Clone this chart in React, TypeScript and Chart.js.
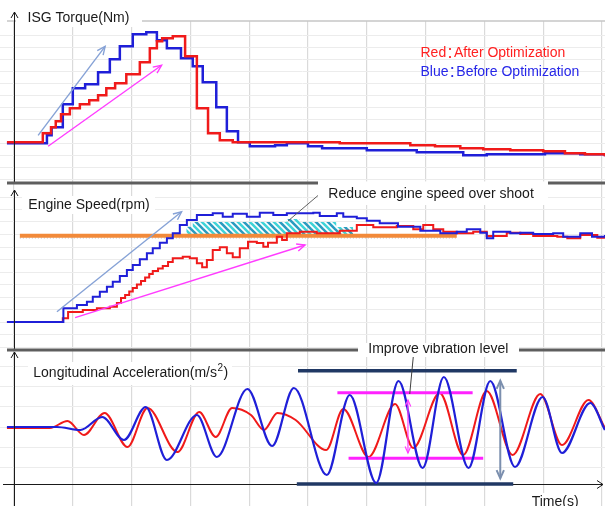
import React, { useEffect, useRef } from "react";
import { Chart, registerables } from "chart.js";

Chart.register(...registerables);

type Pt = [number, number];

// ---------- shared time axis (s) ----------
const timeGridS = [0, 1, 2, 3, 4, 5, 6, 7, 8, 9, 10];
const TIME_MIN = -0.238;
const TIME_MAX = 10.051;

// ---------- panel 1 : ISG torque (Nm) ----------
const torqueGridNm = [-36, -24, -12, 0, 12, 24, 36, 48, 60, 72, 84, 96, 108];
const TORQUE_MIN = -39.7;
const TORQUE_MAX = 122.3;
const torqueAfter: Pt[] = [
  [-0.12, 1], [0.49, 10], [0.63, 16], [0.71, 22], [0.8, 29], [0.95, 35], [1.12, 39], [1.28, 43],
  [1.43, 48], [1.57, 55], [1.72, 60], [1.91, 69], [2.14, 81], [2.31, 95], [2.43, 102], [2.52, 105],
  [2.7, 107], [2.91, 87], [3.11, 35], [3.3, 10], [3.5, 3], [3.72, 1], [4.86, 1], [5.54, 0],
  [6.31, 0], [6.74, -2], [7.16, -3], [7.59, -5], [7.98, -6], [8.44, -7], [9.0, -8], [9.37, -10],
  [9.71, -11], [10.05, -13],
];
const torqueBefore: Pt[] = [
  [-0.12, 0], [0.56, 8], [0.64, 16], [0.83, 39], [1.0, 55], [1.21, 59], [1.43, 71], [1.63, 84],
  [1.8, 97], [2.02, 109], [2.25, 111], [2.43, 103], [2.6, 95], [2.84, 85], [3.04, 77], [3.21, 61],
  [3.44, 36], [3.62, 12], [3.81, 1], [4.01, -3], [4.44, -2], [4.64, 0], [5.0, -3], [5.24, -5],
  [6.0, -7], [6.85, -9], [7.64, -12], [8.04, -11], [9.03, -10], [9.63, -11], [10.05, -13],
];
const torqueTrendBefore: Pt[] = [[0.41, 8], [1.55, 97]];
const torqueTrendAfter: Pt[] = [[0.58, -3], [2.51, 78]];

// ---------- panel 2 : engine speed (rpm) ----------
const speedGridRpm = [-250, -125, 0, 125, 250, 375, 500, 625, 750, 875, 1000, 1125, 1250];
const SPEED_MIN = -280;
const SPEED_MAX = 1390;
const speedAfter: Pt[] = [
  [-0.12, 0], [0.83, 37], [0.92, 100], [1.17, 120], [1.41, 137], [1.63, 153], [1.75, 190], [1.82, 240],
  [1.89, 270], [1.96, 305], [2.02, 340], [2.09, 375], [2.16, 410], [2.23, 445], [2.3, 480], [2.36, 510],
  [2.45, 535], [2.53, 560], [2.62, 600], [2.7, 637], [2.87, 653], [2.99, 637], [3.11, 587], [3.2, 547],
  [3.28, 620], [3.38, 720], [3.5, 747], [3.62, 687], [3.72, 647], [3.84, 737], [3.98, 803], [4.13, 790],
  [4.24, 753], [4.32, 793], [4.47, 853], [4.56, 820], [4.64, 887], [4.86, 903], [5.15, 887], [5.54, 913],
  [5.83, 970], [6.11, 947], [6.51, 960], [6.79, 927], [6.96, 970], [7.13, 927], [7.3, 903], [7.53, 887],
  [7.81, 903], [8.04, 860], [8.38, 893], [8.61, 880], [8.83, 860], [9.24, 853], [9.41, 837], [9.63, 870],
  [9.92, 843], [10.05, 843],
];
const speedBefore: Pt[] = [
  [-0.12, 0], [0.84, 137], [1.07, 170], [1.24, 203], [1.34, 253], [1.46, 303], [1.58, 353], [1.68, 403],
  [1.8, 460], [1.92, 520], [2.02, 570], [2.14, 627], [2.26, 687], [2.36, 737], [2.48, 793], [2.6, 837],
  [2.7, 887], [2.82, 970], [2.94, 1020], [3.11, 1070], [3.38, 1087], [3.55, 1053], [3.72, 1083], [3.96, 1053],
  [4.18, 1093], [4.41, 1070], [4.64, 1087], [5.09, 1093], [5.2, 1060], [5.49, 1087], [5.6, 1053], [5.83, 1037],
  [6.0, 1013], [6.22, 987], [6.53, 953], [6.91, 913], [7.25, 887], [7.53, 903], [7.7, 927], [7.93, 893],
  [8.04, 837], [8.15, 903], [8.44, 887], [8.61, 893], [8.83, 880], [9.17, 887], [9.34, 853], [9.63, 887],
  [9.83, 853], [10.05, 870],
];
const targetSpeed: Pt[] = [[0.1, 863], [7.53, 863]];
const targetSpeedDotted: Pt[] = [[0.1, 840], [7.53, 840]];
const overshootArea: Pt[] = [[2.93, 953], [3.04, 1000], [4.64, 1030], [4.86, 1000], [5.48, 950], [5.77, 950]];
const speedTrendBefore: Pt[] = [[0.73, 103], [2.85, 1103]];
const speedTrendAfter: Pt[] = [[1.04, 43], [4.95, 770]];
const overshootLeader: Pt[] = [[5.24, 1300], [4.66, 1010]];

// ---------- panel 3 : longitudinal acceleration (m/s^2) ----------
const accelGrid = [-0.4, -0.2, 0, 0.2, 0.4, 0.6];
const ACCEL_MIN = -0.57;
const ACCEL_MAX = 0.77;
const accelAfter: Pt[] = [
  [-0.12, -0.01], [0.61, -0.01], [0.91, 0.06], [1.19, -0.08], [1.54, 0.14], [1.93, -0.2], [2.27, 0.19],
  [2.78, -0.25], [3.15, 0.15], [3.43, -0.1], [3.71, 0.19], [4.03, 0.12], [4.25, -0.03], [4.48, 0.14],
  [4.79, 0.07], [5.31, -0.23], [5.6, 0.18], [6.03, -0.3], [6.48, 0.23], [6.79, -0.21], [7.24, 0.34],
  [7.64, -0.28], [8.04, 0.36], [8.48, -0.28], [8.95, 0.33], [9.32, -0.18], [9.77, 0.27], [10.05, -0.01],
];
const accelBefore: Pt[] = [
  [-0.12, 0], [0.73, 0], [1.13, -0.03], [1.5, 0.1], [1.87, -0.13], [2.24, 0.2], [2.6, -0.33],
  [3.11, 0.12], [3.45, -0.3], [3.97, 0.38], [4.39, -0.19], [4.76, 0.39], [5.32, -0.48], [5.71, 0.32],
  [6.16, -0.56], [6.54, 0.46], [6.95, -0.41], [7.31, 0.5], [7.73, -0.41], [8.1, 0.46], [8.52, -0.4],
  [8.99, 0.3], [9.32, -0.26], [9.8, 0.24], [10.05, -0.03],
];
const envelopeTop: Pt[] = [[4.83, 0.563], [8.55, 0.563]];
const envelopeBottom: Pt[] = [[4.81, -0.57], [8.49, -0.57]];
const bandTop: Pt[] = [[5.5, 0.343], [7.8, 0.343]];
const bandBottom: Pt[] = [[5.69, -0.313], [7.98, -0.313]];
const bandSpan: Pt[] = [[6.7, 0.27], [6.7, -0.26]];
const envelopeSpan: Pt[] = [[8.27, 0.463], [8.27, -0.513]];
const vibrationLeader: Pt[] = [[6.79, 0.7], [6.73, 0.33]];

// ---------- texts ----------
const titleTorque = "ISG Torque(Nm)";
const titleSpeed = "Engine Speed(rpm)";
const titleAccel = "Longitudinal Acceleration(m/s";
const legendAfter = ["Red", "：", "After Optimization"];
const legendBefore = ["Blue", "：", "Before Optimization"];
const noteSpeed = "Reduce engine speed over shoot";
const noteAccel = "Improve vibration level";
const timeLabel = "Time(s)";

const RED = "#f01a1a";
const BLUE = "#1f1fd8";
const FONT = '"Liberation Sans", Arial, sans-serif';
const FONT_CJK = '"Noto Sans CJK TC", "Noto Sans CJK SC", sans-serif';

// ---------- drawing helpers ----------
function seg(ctx: CanvasRenderingContext2D, x1: number, y1: number, x2: number, y2: number) {
  ctx.beginPath();
  ctx.moveTo(x1, y1);
  ctx.lineTo(x2, y2);
  ctx.stroke();
}
function whiteBox(ctx: CanvasRenderingContext2D, x1: number, y1: number, x2: number, y2: number) {
  ctx.fillStyle = "#ffffff";
  ctx.fillRect(x1, y1, x2 - x1, y2 - y1);
}
function text(ctx: CanvasRenderingContext2D, s: string, x: number, y: number, color = "#1a1a1a", size = 14, baseline: CanvasTextBaseline = "middle") {
  ctx.font = `${size}px ${FONT}`;
  ctx.fillStyle = color;
  ctx.textAlign = "left";
  ctx.textBaseline = baseline;
  ctx.fillText(s, x, y);
  return ctx.measureText(s).width;
}
function legendLine(ctx: CanvasRenderingContext2D, parts: string[], x: number, y: number, color: string) {
  const w = text(ctx, parts[0], x, y, color, 14);
  ctx.font = `14px ${FONT_CJK}`;
  ctx.textAlign = "center";
  ctx.fillText(parts[1], x + w + 3.8, y);
  text(ctx, parts[2], x + w + 7.8, y, color, 14);
}
function vAxis(ctx: CanvasRenderingContext2D, x: number, yTip: number, yEnd: number) {
  ctx.save();
  ctx.strokeStyle = "#1a1a1a";
  ctx.lineWidth = 1;
  seg(ctx, x, yTip, x, yEnd);
  ctx.beginPath();
  ctx.moveTo(x - 3.5, yTip + 6);
  ctx.lineTo(x, yTip);
  ctx.lineTo(x + 3.5, yTip + 6);
  ctx.stroke();
  ctx.restore();
}
function separator(ctx: CanvasRenderingContext2D, y: number, gapL: number, gapR: number, right: number) {
  ctx.save();
  ctx.strokeStyle = "#5e5e5e";
  ctx.lineWidth = 3;
  seg(ctx, 7, y, gapL, y);
  seg(ctx, gapR, y, right, y);
  ctx.restore();
}
function head(ctx: CanvasRenderingContext2D, tip: any, from: any, len: number) {
  const a = Math.atan2(tip.y - from.y, tip.x - from.x);
  const w = 0.42;
  ctx.beginPath();
  ctx.moveTo(tip.x - len * Math.cos(a - w), tip.y - len * Math.sin(a - w));
  ctx.lineTo(tip.x, tip.y);
  ctx.lineTo(tip.x - len * Math.cos(a + w), tip.y - len * Math.sin(a + w));
  ctx.stroke();
}

const arrowPlugin = {
  id: "arrowHeads",
  afterDatasetsDraw(chart: any) {
    const ctx = chart.ctx;
    chart.data.datasets.forEach((ds: any, i: number) => {
      if (!ds.arrowHeads) return;
      const pts = chart.getDatasetMeta(i).data;
      if (pts.length < 2) return;
      ctx.save();
      ctx.strokeStyle = ds.borderColor;
      ctx.lineWidth = ds.borderWidth;
      const len = ds.arrowHeads.len || 8;
      if (ds.arrowHeads.end) head(ctx, pts[pts.length - 1], pts[pts.length - 2], len);
      if (ds.arrowHeads.start) head(ctx, pts[0], pts[1], len);
      ctx.restore();
    });
  },
};

function series(pts: Pt[], color: string, width: number, extra: any = {}) {
  return {
    data: pts.map(([x, y]) => ({ x, y })),
    borderColor: color,
    backgroundColor: color,
    borderWidth: width,
    pointRadius: 0,
    fill: false,
    ...extra,
  };
}

function baseOptions(yMin: number, yMax: number, yGrid: number[], padTop: number, xAxisH: number, tickLen: number) {
  return {
    responsive: false,
    animation: false,
    events: [],
    layout: { padding: { top: padTop, left: 0, right: 0, bottom: 0 } },
    plugins: { legend: { display: false }, tooltip: { enabled: false } },
    elements: { point: { radius: 0 }, line: { borderJoinStyle: "miter" } },
    scales: {
      x: {
        type: "linear",
        min: TIME_MIN,
        max: TIME_MAX,
        border: { display: false },
        ticks: { display: false },
        grid: { color: "#dadada", lineWidth: 1.2, drawTicks: tickLen > 0, tickLength: tickLen },
        afterBuildTicks: (s: any) => { s.ticks = timeGridS.map((v) => ({ value: v })); },
        afterFit: (s: any) => { s.height = xAxisH; },
      },
      y: {
        type: "linear",
        min: yMin,
        max: yMax,
        border: { display: false },
        ticks: { display: false },
        grid: { color: "#ececec", lineWidth: 1, drawTicks: false },
        afterBuildTicks: (s: any) => { s.ticks = yGrid.map((v) => ({ value: v })); },
        afterFit: (s: any) => { s.width = 0; },
      },
    },
  };
}

function hatchPattern(): any {
  const c = document.createElement("canvas");
  c.width = 12;
  c.height = 12;
  const g = c.getContext("2d");
  if (!g) return "#48cfd8";
  g.lineWidth = 2.6;
  const stripe = (k: number, col: string) => {
    g.strokeStyle = col;
    g.beginPath();
    g.moveTo(-2, -2 + k);
    g.lineTo(14, 14 + k);
    g.stroke();
  };
  [-12, 0, 12].forEach((k) => stripe(k, "#3fd3d8"));
  [-6, 6].forEach((k) => stripe(k, "#2a9cc0"));
  return g.createPattern(c, "repeat") || "#48cfd8";
}

function torqueConfig(): any {
  const decor = {
    id: "torqueDecor",
    afterDraw(chart: any) {
      const { ctx, chartArea: a } = chart;
      const x0 = Math.round(chart.scales.x.getPixelForValue(0)) + 0.5;
      ctx.save();
      ctx.strokeStyle = "#c6c6c6";
      ctx.lineWidth = 1.5;
      seg(ctx, 7, a.top, a.right, a.top);
      whiteBox(ctx, x0 + 1.5, a.top - 8, 142, a.top + 6);
      text(ctx, titleTorque, 27.5, a.top - 2.7);
      legendLine(ctx, legendAfter, 420.5, 52.7, "#ff2020");
      legendLine(ctx, legendBefore, 420.5, 71.7, "#2626e8");
      ctx.restore();
      vAxis(ctx, x0, a.top - 9, a.bottom);
    },
  };
  return {
    type: "line",
    data: {
      datasets: [
        series(torqueAfter, RED, 2.5, { stepped: true, order: 2 }),
        series(torqueBefore, BLUE, 2.5, { stepped: true, order: 3 }),
        series(torqueTrendBefore, "#86a2d6", 1.4, { order: 1, arrowHeads: { end: true, len: 9 } }),
        series(torqueTrendAfter, "#ff3cff", 1.4, { order: 1, arrowHeads: { end: true, len: 9 } }),
      ],
    },
    options: baseOptions(TORQUE_MIN, TORQUE_MAX, torqueGridNm, 21, 7, 0),
    plugins: [arrowPlugin, decor],
  };
}

function speedConfig(pattern: any): any {
  const decor = {
    id: "speedDecor",
    afterDraw(chart: any) {
      const { ctx, chartArea: a } = chart;
      const x0 = Math.round(chart.scales.x.getPixelForValue(0)) + 0.5;
      ctx.save();
      separator(ctx, a.top, 318, 548, a.right);
      whiteBox(ctx, 318, a.top - 1.6, 548, a.top + 22);
      text(ctx, noteSpeed, 328.3, a.top + 11);
      whiteBox(ctx, 22, a.top + 13, 155, a.top + 31);
      text(ctx, titleSpeed, 28.3, a.top + 22);
      ctx.restore();
      vAxis(ctx, x0, a.top + 7, a.bottom);
    },
  };
  return {
    type: "line",
    data: {
      datasets: [
        series(overshootArea, "rgba(0,0,0,0)", 0, {
          stepped: true, order: 9, backgroundColor: pattern, fill: { target: { value: targetSpeed[0][1] } },
        }),
        series(targetSpeedDotted, "#b8b8b8", 1, { borderDash: [1, 2], order: 8 }),
        series(targetSpeed, "#f28a3a", 4, { order: 7 }),
        series(speedAfter, RED, 2, { stepped: true, order: 4 }),
        series(speedBefore, BLUE, 2, { stepped: true, order: 3 }),
        series(speedTrendBefore, "#86a2d6", 1.4, { order: 1, arrowHeads: { end: true, len: 9 } }),
        series(speedTrendAfter, "#ff3cff", 1.4, { order: 1, arrowHeads: { end: true, len: 9 } }),
        series(overshootLeader, "#606060", 1, { order: 0, clip: false }),
      ],
    },
    options: baseOptions(SPEED_MIN, SPEED_MAX, speedGridRpm, 7, 7, 0),
    plugins: [arrowPlugin, decor],
  };
}

function accelConfig(): any {
  const decor = {
    id: "accelDecor",
    beforeDatasetsDraw(chart: any) {
      const { ctx, chartArea: a } = chart;
      const y = Math.round(a.bottom) + 0.5;
      ctx.save();
      ctx.strokeStyle = "#1a1a1a";
      ctx.lineWidth = 1;
      seg(ctx, 3, y, 603, y);
      ctx.beginPath();
      ctx.moveTo(597, y - 4);
      ctx.lineTo(603, y);
      ctx.lineTo(597, y + 4);
      ctx.stroke();
      ctx.restore();
    },
    afterDraw(chart: any) {
      const { ctx, chartArea: a } = chart;
      const x0 = Math.round(chart.scales.x.getPixelForValue(0)) + 0.5;
      ctx.save();
      separator(ctx, a.top, 358, 519, a.right);
      whiteBox(ctx, 358, a.top - 8, 519, a.top + 7);
      text(ctx, noteAccel, 368.3, a.top - 1);
      whiteBox(ctx, 28, a.top + 12, 232, a.top + 35);
      const w = text(ctx, titleAccel, 33.3, a.top + 23.3);
      const w2 = text(ctx, "2", 33.3 + w + 0.5, a.top + 18.5, "#1a1a1a", 10);
      text(ctx, ")", 33.3 + w + w2 + 1, a.top + 23.3);
      whiteBox(ctx, 529, a.bottom + 9, 583, chart.height);
      text(ctx, timeLabel, 531.7, chart.height, "#1a1a1a", 14, "alphabetic");
      ctx.restore();
      vAxis(ctx, x0, a.top + 2, chart.height);
    },
  };
  const mono = { cubicInterpolationMode: "monotone" };
  return {
    type: "line",
    data: {
      datasets: [
        series(envelopeTop, "#203864", 3.5, { order: 6, clip: false }),
        series(envelopeBottom, "#203864", 3.5, { order: 6, clip: false }),
        series(bandTop, "#ff22ff", 3, { order: 3.5 }),
        series(bandBottom, "#ff22ff", 3, { order: 3.5 }),
        series(accelAfter, RED, 2, { order: 4, ...mono }),
        series(accelBefore, BLUE, 2.2, { order: 3, ...mono }),
        series(bandSpan, "#ff40ff", 1.2, { order: 0, arrowHeads: { start: true, end: true, len: 7 } }),
        series(envelopeSpan, "#7b8fae", 2, { order: 0, arrowHeads: { start: true, end: true, len: 9 } }),
        series(vibrationLeader, "#404040", 1, { order: 0, clip: false }),
      ],
    },
    options: baseOptions(ACCEL_MIN, ACCEL_MAX, accelGrid, 7, 22, 22),
    plugins: [arrowPlugin, decor],
  };
}

export default function App() {
  const r1 = useRef<HTMLCanvasElement>(null);
  const r2 = useRef<HTMLCanvasElement>(null);
  const r3 = useRef<HTMLCanvasElement>(null);

  useEffect(() => {
    const charts = [
      new Chart(r1.current as HTMLCanvasElement, torqueConfig()),
      new Chart(r2.current as HTMLCanvasElement, speedConfig(hatchPattern())),
      new Chart(r3.current as HTMLCanvasElement, accelConfig()),
    ];
    return () => charts.forEach((c) => c.destroy());
  }, []);

  const cv = (top: number, h: number): React.CSSProperties => ({
    position: "absolute", left: 0, top, width: 605, height: h, display: "block",
  });

  return (
    <div style={{ position: "absolute", left: 0, top: 0, width: 605, height: 506, background: "#fff", overflow: "hidden" }}>
      <canvas ref={r1} width={605} height={190} style={cv(0, 190)} />
      <canvas ref={r2} width={605} height={181} style={cv(176, 181)} />
      <canvas ref={r3} width={605} height={163} style={cv(343, 163)} />
    </div>
  );
}
